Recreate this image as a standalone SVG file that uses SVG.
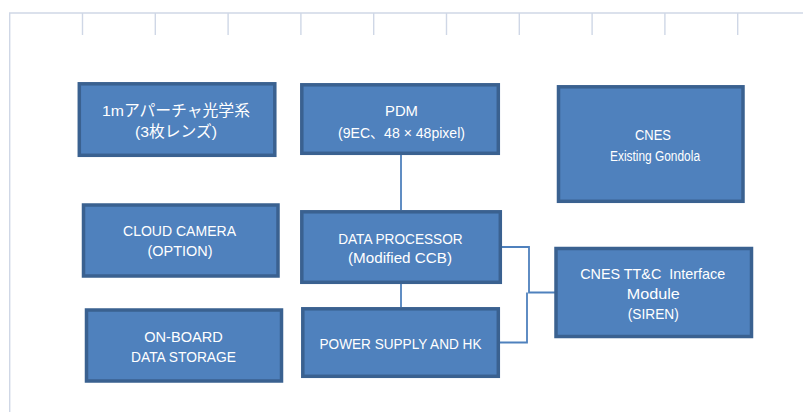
<svg xmlns="http://www.w3.org/2000/svg" width="803" height="412" viewBox="0 0 803 412">
  <style>
    .ruler { stroke: #cfd7e6; stroke-width: 1.4; fill: none; }
    .box { fill: #4f81bd; stroke: #3a6190; stroke-width: 3.5; }
    .lbl { fill: #ffffff; font-family: "Liberation Sans", "Noto Sans CJK JP", sans-serif; font-size: 14.5px; text-anchor: middle; }
    .jp { font-size: 15.5px; }
    .sm { font-size: 14px; }
    .wire { stroke: #4f81bd; stroke-width: 1.8; fill: none; }
  </style>
  <rect width="803" height="412" fill="#ffffff"/>

  <!-- page ruler -->
  <g id="ruler" class="ruler">
    <path d="M9.7 412 V13 H803"/>
    <path d="M82.5 13 V35 M155.3 13 V35 M228.1 13 V35 M300.9 13 V35 M373.7 13 V35 M446.5 13 V35 M519.3 13 V35 M592.1 13 V35 M664.9 13 V35 M737.7 13 V35"/>
  </g>

  <!-- connectors -->
  <g id="connectors" class="wire">
    <path d="M401 155 V210"/>
    <path d="M401 283 V307"/>
    <path d="M501 247 H529 V292.5 H555"/>
    <path d="M499 342.5 H527 V292.5"/>
  </g>

  <g id="optics">
    <rect class="box" x="79.3" y="83.8" width="195.5" height="71.5"/>
    <text class="lbl jp" x="176" y="115.5" textLength="148" lengthAdjust="spacingAndGlyphs">1mアパーチャ光学系</text>
    <text class="lbl jp" x="176" y="137" textLength="82" lengthAdjust="spacingAndGlyphs">(3枚レンズ)</text>
  </g>

  <g id="pdm">
    <rect class="box" x="301.8" y="84.8" width="196.5" height="68.5"/>
    <text class="lbl" x="401.5" y="116" textLength="33" lengthAdjust="spacingAndGlyphs">PDM</text>
    <text class="lbl" x="401.5" y="137.5" textLength="127" lengthAdjust="spacingAndGlyphs">(9EC、48 × 48pixel)</text>
  </g>

  <g id="gondola">
    <rect class="box" x="558.5" y="86.8" width="184.5" height="114.5"/>
    <text class="lbl" x="653" y="140" textLength="36" lengthAdjust="spacingAndGlyphs">CNES</text>
    <text class="lbl sm" x="655" y="160.5" textLength="90" lengthAdjust="spacingAndGlyphs">Existing Gondola</text>
  </g>

  <g id="cloud-camera">
    <rect class="box" x="83.5" y="205" width="194.5" height="71"/>
    <text class="lbl" x="179.5" y="235.7" textLength="113" lengthAdjust="spacingAndGlyphs">CLOUD CAMERA</text>
    <text class="lbl" x="180" y="256" textLength="65" lengthAdjust="spacingAndGlyphs">(OPTION)</text>
  </g>

  <g id="data-processor">
    <rect class="box" x="301.8" y="211.8" width="198.5" height="70.5"/>
    <text class="lbl" x="400.4" y="243.5" textLength="124.5" lengthAdjust="spacingAndGlyphs">DATA PROCESSOR</text>
    <text class="lbl" x="400" y="263" textLength="104" lengthAdjust="spacingAndGlyphs">(Modified CCB)</text>
  </g>

  <g id="storage">
    <rect class="box" x="86.5" y="310" width="195" height="71"/>
    <text class="lbl" x="183.5" y="341.5" textLength="78.5" lengthAdjust="spacingAndGlyphs">ON-BOARD</text>
    <text class="lbl" x="183.5" y="362" textLength="105" lengthAdjust="spacingAndGlyphs">DATA STORAGE</text>
  </g>

  <g id="power-supply">
    <rect class="box" x="302.8" y="308.8" width="195.5" height="67.5"/>
    <text class="lbl" x="400.5" y="348.5" textLength="162" lengthAdjust="spacingAndGlyphs">POWER SUPPLY AND HK</text>
  </g>

  <g id="siren">
    <rect class="box" x="556" y="248.5" width="195.5" height="88"/>
    <text class="lbl" x="652.7" y="279" textLength="145" lengthAdjust="spacingAndGlyphs" xml:space="preserve">CNES TT&amp;C  Interface</text>
    <text class="lbl" x="653.3" y="299" textLength="53" lengthAdjust="spacingAndGlyphs">Module</text>
    <text class="lbl" x="653.3" y="318.5" textLength="51" lengthAdjust="spacingAndGlyphs">(SIREN)</text>
  </g>
</svg>
